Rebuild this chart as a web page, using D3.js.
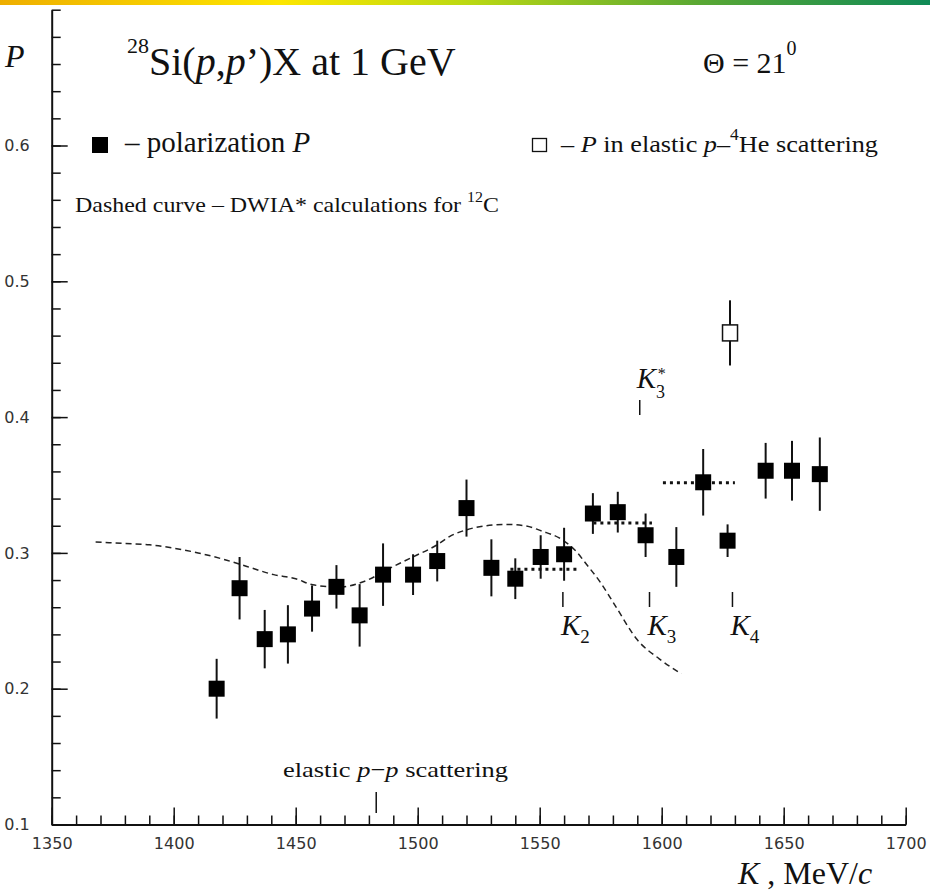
<!DOCTYPE html>
<html>
<head>
<meta charset="utf-8">
<script src="https://cdn.jsdelivr.net/npm/d3@7"></script>
<style>
  html, body { margin: 0; padding: 0; background: #fff; }
  svg { display: block; }
  .serif { font-family: "Liberation Serif", "Times New Roman", serif; fill: #111; }
  .tick text { font-family: "DejaVu Sans", sans-serif; font-size: 16px; fill: #333; }
</style>
</head>
<body>
<svg id="chart" width="930" height="891"></svg>
<script>
// Measured polarization of 28Si(p,p')X at 1 GeV, Theta = 21 deg
const momentumK = [1417.6, 1427, 1437.3, 1446.8, 1456.7, 1466.7, 1476.2, 1485.8, 1498.1, 1508,
                   1520, 1530.2, 1540, 1550.4, 1560, 1571.8, 1582, 1593.4, 1606, 1617,
                   1627, 1642.6, 1653.4, 1664.8];
const polarization = [0.200, 0.274, 0.2365, 0.240, 0.259, 0.275, 0.254, 0.284, 0.284, 0.294,
                      0.333, 0.289, 0.281, 0.297, 0.299, 0.329, 0.330, 0.313, 0.297, 0.352,
                      0.309, 0.3605, 0.3605, 0.358];
const polError = [0.022, 0.023, 0.0215, 0.0215, 0.017, 0.016, 0.023, 0.023, 0.015, 0.015,
                  0.021, 0.021, 0.015, 0.016, 0.0195, 0.015, 0.015, 0.016, 0.022, 0.0245,
                  0.012, 0.0205, 0.022, 0.027];

// Elastic p-4He point
const heK = [1628];
const heP = [0.462];
const heErr = [0.024];

// DWIA calculation for 12C (dashed curve)
const dwiaK = [1368, 1379, 1390, 1400, 1410, 1420, 1430, 1441, 1450, 1457, 1468, 1478, 1490,
               1498, 1508, 1513, 1520, 1528, 1536, 1544, 1551, 1558, 1565, 1569, 1575, 1581,
               1590, 1599, 1608];
const dwiaP = [0.308, 0.307, 0.306, 0.3035, 0.300, 0.2955, 0.290, 0.284, 0.281, 0.2765, 0.2748,
               0.279, 0.290, 0.297, 0.306, 0.312, 0.317, 0.320, 0.321, 0.320, 0.316, 0.311,
               0.301, 0.292, 0.278, 0.261, 0.236, 0.222, 0.211];

// Average levels (dotted segments)
const levelFrom = [1538, 1572, 1600.5];
const levelTo = [1566, 1596, 1630];
const levelP = [0.288, 0.322, 0.3517];

// Threshold markers
const markerNames = ["K2", "K3", "K4"];
const markerK = [1559.5, 1595, 1629];
const k3StarK = [1591];
const ppElasticK = [1483];

// Axis ticks
const xMajorTicks = [1350, 1400, 1450, 1500, 1550, 1600, 1650, 1700];
const yMajorTicks = [0.1, 0.2, 0.3, 0.4, 0.5, 0.6];

const svg = d3.select("#chart");

// top banner stripe
const defs = svg.append("defs");
const grad = defs.append("linearGradient").attr("id", "banner").attr("x1", "0").attr("x2", "1").attr("y1", "0").attr("y2", "0");
[["0", "#eeae00"], ["0.3", "#fde600"], ["0.5", "#bcd912"], ["0.75", "#5aa833"], ["1", "#0f8a57"]]
  .forEach(([o, c]) => grad.append("stop").attr("offset", o).attr("stop-color", c));
svg.append("rect").attr("x", 0).attr("y", 0).attr("width", 930).attr("height", 5).attr("fill", "url(#banner)");

const x = d3.scaleLinear().domain([1350, 1700]).range([51.7, 905.7]);
const y = d3.scaleLinear().domain([0.1, 0.7]).range([824.5, 9.7]);

// x axis: minor ticks then major ticks with labels
svg.append("g").attr("transform", `translate(0,${y(0.1)})`)
  .call(d3.axisBottom(x).tickValues(d3.range(1350, 1701, 10)).tickSizeInner(-9).tickSizeOuter(0).tickFormat(""))
  .call(g => g.select(".domain").attr("stroke-width", 2).attr("stroke", "#111"))
  .call(g => g.selectAll(".tick line").attr("stroke-width", 1.5).attr("stroke", "#111"));
svg.append("g").attr("transform", `translate(0,${y(0.1)})`)
  .call(d3.axisBottom(x).tickValues(xMajorTicks).tickSizeInner(-17).tickSizeOuter(0).tickPadding(13).tickFormat(d3.format("d")))
  .call(g => g.select(".domain").remove())
  .call(g => g.selectAll(".tick line").attr("stroke-width", 1.5).attr("stroke", "#111"));

// y axis
svg.append("g").attr("transform", `translate(${x(1350)},0)`)
  .call(d3.axisLeft(y).tickValues(d3.range(0.1, 0.7001, 0.02)).tickSizeInner(-9).tickSizeOuter(0).tickFormat(""))
  .call(g => g.select(".domain").attr("stroke-width", 2).attr("stroke", "#111"))
  .call(g => g.selectAll(".tick line").attr("stroke-width", 1.5).attr("stroke", "#111"));
svg.append("g").attr("transform", `translate(${x(1350)},0)`)
  .call(d3.axisLeft(y).tickValues(yMajorTicks).tickSizeInner(-16).tickSizeOuter(0).tickPadding(22).tickFormat(d3.format(".1f")))
  .call(g => g.select(".domain").remove())
  .call(g => g.selectAll(".tick line").attr("stroke-width", 1.5).attr("stroke", "#111"));

// DWIA dashed curve
const dwia = dwiaK.map((k, i) => [k, dwiaP[i]]);
svg.append("path").datum(dwia)
  .attr("fill", "none").attr("stroke", "#222").attr("stroke-width", 1.5).attr("stroke-dasharray", "6,4")
  .attr("d", d3.line().x(d => x(d[0])).y(d => y(d[1])).curve(d3.curveMonotoneX));

// dotted average levels
svg.append("g").selectAll("line").data(levelP).join("line")
  .attr("x1", (p, i) => x(levelFrom[i])).attr("x2", (p, i) => x(levelTo[i]))
  .attr("y1", p => y(p)).attr("y2", p => y(p))
  .attr("stroke", "#111").attr("stroke-width", 3).attr("stroke-dasharray", "3,4");

// error bars and filled squares
const pts = momentumK.map((k, i) => ({k, p: polarization[i], e: polError[i]}));
const marks = svg.append("g");
marks.selectAll("line").data(pts).join("line")
  .attr("x1", d => x(d.k)).attr("x2", d => x(d.k))
  .attr("y1", d => y(d.p - d.e)).attr("y2", d => y(d.p + d.e))
  .attr("stroke", "#111").attr("stroke-width", 2);
marks.selectAll("rect").data(pts).join("rect")
  .attr("x", d => x(d.k) - 8).attr("y", d => y(d.p) - 8)
  .attr("width", 16).attr("height", 16).attr("fill", "#000");

// open square for p-4He
const he = heK.map((k, i) => ({k, p: heP[i], e: heErr[i]}));
const heg = svg.append("g");
heg.selectAll("line").data(he).join("line")
  .attr("x1", d => x(d.k)).attr("x2", d => x(d.k))
  .attr("y1", d => y(d.p - d.e)).attr("y2", d => y(d.p + d.e))
  .attr("stroke", "#111").attr("stroke-width", 2);
heg.selectAll("rect").data(he).join("rect")
  .attr("x", d => x(d.k) - 7.5).attr("y", d => y(d.p) - 8)
  .attr("width", 15).attr("height", 16).attr("fill", "#fff").attr("stroke", "#111").attr("stroke-width", 1.5);

// threshold ticks
svg.append("g").selectAll("line").data(markerK).join("line")
  .attr("x1", k => x(k)).attr("x2", k => x(k)).attr("y1", 592).attr("y2", 607)
  .attr("stroke", "#111").attr("stroke-width", 1.5);
svg.append("g").selectAll("line").data(k3StarK).join("line")
  .attr("x1", k => x(k)).attr("x2", k => x(k)).attr("y1", 400).attr("y2", 415)
  .attr("stroke", "#111").attr("stroke-width", 1.5);
svg.append("g").selectAll("line").data(ppElasticK).join("line")
  .attr("x1", k => x(k)).attr("x2", k => x(k)).attr("y1", 792).attr("y2", 813)
  .attr("stroke", "#111").attr("stroke-width", 1.5);

// threshold labels
const kl = svg.append("g").selectAll("text").data(markerK).join("text")
  .attr("class", "serif").attr("x", k => x(k) - 2).attr("y", 635).attr("font-size", 29);
kl.append("tspan").attr("font-style", "italic").text("K");
kl.append("tspan").attr("font-size", 19).attr("dy", 8).text((k, i) => markerNames[i].slice(1));

// K3* label: subscript 3 with the star set above it
const k3x = x(k3StarK[0]) - 3;
svg.append("text").attr("class", "serif").attr("x", k3x).attr("y", 388).attr("font-size", 29)
  .call(t => {
    t.append("tspan").attr("font-style", "italic").text("K");
    t.append("tspan").attr("font-size", 18).attr("dy", 10).text("3");
  });
svg.append("text").attr("class", "serif").attr("x", k3x + 21).attr("y", 379).attr("font-size", 16).text("*");

svg.append("text").attr("class", "serif").attr("x", 283).attr("y", 777).attr("font-size", 22)
  .attr("textLength", 225).attr("lengthAdjust", "spacingAndGlyphs")
  .call(t => {
    t.append("tspan").text("elastic ");
    t.append("tspan").attr("font-style", "italic").text("p");
    t.append("tspan").text("\u2212");
    t.append("tspan").attr("font-style", "italic").text("p");
    t.append("tspan").text(" scattering");
  });

// axis titles
svg.append("text").attr("class", "serif").attr("x", 5).attr("y", 67).attr("font-size", 32)
  .attr("font-style", "italic").text("P");
svg.append("text").attr("class", "serif").attr("x", 738).attr("y", 884).attr("font-size", 32)
  .call(t => {
    t.append("tspan").attr("font-style", "italic").text("K");
    t.append("tspan").text(" , MeV/");
    t.append("tspan").attr("font-style", "italic").text("c");
  });

// title
svg.append("text").attr("class", "serif").attr("x", 127).attr("y", 75).attr("font-size", 40)
  .call(t => {
    t.append("tspan").attr("font-size", 22).attr("dy", -22).text("28");
    t.append("tspan").attr("dy", 22).text("Si(");
    t.append("tspan").attr("font-style", "italic").text("p");
    t.append("tspan").text(",");
    t.append("tspan").attr("font-style", "italic").text("p");
    t.append("tspan").text("\u2019)X at 1 GeV");
  });
svg.append("text").attr("class", "serif").attr("x", 703).attr("y", 73).attr("font-size", 30)
  .call(t => {
    t.append("tspan").text("\u0398 = 21");
    t.append("tspan").attr("font-size", 20).attr("dy", -18).text("0");
  });

// legend
svg.append("rect").attr("x", 92).attr("y", 137).attr("width", 16).attr("height", 16).attr("fill", "#000");
svg.append("text").attr("class", "serif").attr("x", 125).attr("y", 152).attr("font-size", 29)
  .call(t => {
    t.append("tspan").text("\u2013 polarization ");
    t.append("tspan").attr("font-style", "italic").text("P");
  });
svg.append("rect").attr("x", 532.5).attr("y", 138.5).attr("width", 14).attr("height", 13)
  .attr("fill", "none").attr("stroke", "#111").attr("stroke-width", 1.3);
svg.append("text").attr("class", "serif").attr("x", 561).attr("y", 152).attr("font-size", 24)
  .attr("textLength", 317).attr("lengthAdjust", "spacingAndGlyphs")
  .call(t => {
    t.append("tspan").text("\u2013 ");
    t.append("tspan").attr("font-style", "italic").text("P");
    t.append("tspan").text(" in elastic ");
    t.append("tspan").attr("font-style", "italic").text("p");
    t.append("tspan").text("\u2013");
    t.append("tspan").attr("font-size", 16).attr("dy", -12).text("4");
    t.append("tspan").attr("dy", 12).text("He scattering");
  });
svg.append("text").attr("x", 75).attr("y", 212).attr("font-size", 21)
  .attr("font-family", "Liberation Serif, serif").attr("fill", "#111")
  .attr("textLength", 424).attr("lengthAdjust", "spacingAndGlyphs")
  .call(t => {
    t.append("tspan").text("Dashed curve \u2013 DWIA* calculations for ");
    t.append("tspan").attr("font-size", 14).attr("dy", -10).text("12");
    t.append("tspan").attr("dy", 10).text("C");
  });
</script>
</body>
</html>
